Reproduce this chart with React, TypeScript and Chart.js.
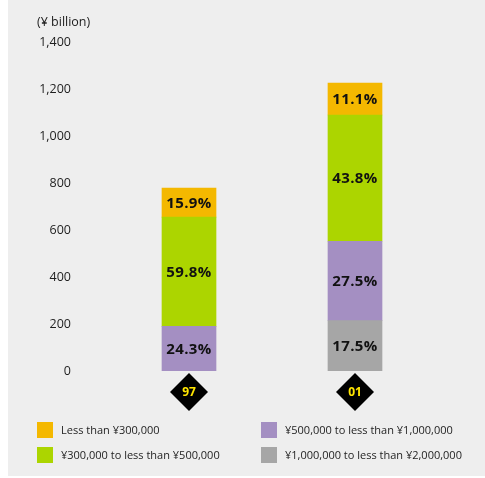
import React, { useEffect, useRef } from "react";
import { Chart, registerables } from "chart.js";

Chart.register(...registerables);

const years = ["97", "01"];
const yTicks = [0, 200, 400, 600, 800, 1000, 1200, 1400];

const seriesNames = [
  "¥1,000,000 to less than ¥2,000,000",
  "¥500,000 to less than ¥1,000,000",
  "¥300,000 to less than ¥500,000",
  "Less than ¥300,000",
];
const gray1Mto2M = [null, 215];
const purple500kto1M = [190, 338];
const green300kto500k = [466, 538];
const orangeUnder300k = [124, 136];

const pctGray = [null, 17.5];
const pctPurple = [24.3, 27.5];
const pctGreen = [59.8, 43.8];
const pctOrange = [15.9, 11.1];

const colors = ["#A6A6A6", "#A48FC2", "#ACD500", "#F4B800"];
const FONT = "'Open Sans', 'Noto Sans', sans-serif";
const TEXT = "#1e1e1e";

const overlayPlugin = {
  id: "overlay",
  afterDatasetsDraw(chart: any) {
    const ctx = chart.ctx;
    const pcts = [pctGray, pctPurple, pctGreen, pctOrange];
    ctx.save();
    // segment labels
    ctx.font = `bold 15px ${FONT}`;
    ctx.fillStyle = "#111";
    ctx.textAlign = "center";
    ctx.textBaseline = "middle";
    try { (ctx as any).letterSpacing = "0.4px"; } catch (e) {}
    chart.data.datasets.forEach((ds: any, di: number) => {
      const meta = chart.getDatasetMeta(di);
      meta.data.forEach((el: any, i: number) => {
        const p = pcts[di][i];
        if (p == null) return;
        const cy = (el.y + el.base) / 2;
        ctx.fillText(p.toFixed(1) + "%", el.x, cy + 1);
      });
    });
    try { (ctx as any).letterSpacing = "0px"; } catch (e) {}
    // diamonds
    const xs = chart.scales.x;
    const yb = chart.chartArea.bottom;
    years.forEach((yr, i) => {
      const cx = xs.getPixelForValue(i);
      const cy = yb + 21;
      const r = 19;
      ctx.fillStyle = "#000";
      ctx.beginPath();
      ctx.moveTo(cx, cy - r);
      ctx.lineTo(cx + r, cy);
      ctx.lineTo(cx, cy + r);
      ctx.lineTo(cx - r, cy);
      ctx.closePath();
      ctx.fill();
      ctx.fillStyle = "#FFE500";
      ctx.font = `bold 12px ${FONT}`;
      ctx.fillText(yr, cx, cy + 1);
    });
    // unit title
    ctx.fillStyle = TEXT;
    ctx.font = `12.5px ${FONT}`;
    ctx.textAlign = "left";
    ctx.fillText("(¥ billion)", 29, 22);
    // legend
    const items = [
      { c: colors[3], t: seriesNames[3], x: 29, y: 422 },
      { c: colors[2], t: seriesNames[2], x: 29, y: 447 },
      { c: colors[1], t: seriesNames[1], x: 253, y: 422 },
      { c: colors[0], t: seriesNames[0], x: 253, y: 447 },
    ];
    ctx.font = `11px ${FONT}`;
    items.forEach((it) => {
      ctx.fillStyle = it.c;
      ctx.fillRect(it.x, it.y, 16, 16);
      ctx.fillStyle = TEXT;
      ctx.fillText(it.t, it.x + 24, it.y + 8.5);
    });
    ctx.restore();
  },
};

export default function App() {
  const ref = useRef<HTMLCanvasElement>(null);
  useEffect(() => {
    if (!ref.current) return;
    const data = [gray1Mto2M, purple500kto1M, green300kto500k, orangeUnder300k];
    const chart = new Chart(ref.current, {
      type: "bar",
      data: {
        labels: years,
        datasets: data.map((d, i) => ({
          label: seriesNames[i],
          data: d as any,
          backgroundColor: colors[i],
          borderWidth: 0,
          barThickness: 54,
        })),
      },
      options: {
        animation: false,
        responsive: false,
        maintainAspectRatio: false,
        layout: { padding: { left: 0, right: 47, top: 37, bottom: 105 } },
        plugins: {
          legend: { display: false },
          tooltip: { enabled: false },
          title: { display: false },
        },
        scales: {
          x: {
            stacked: true,
            display: false,
            offset: true,
          },
          y: {
            stacked: true,
            min: 0,
            max: 1400,
            border: { display: false },
            grid: { display: false, drawTicks: false },
            afterBuildTicks: (s: any) => {
              s.ticks = yTicks.map((v) => ({ value: v }));
            },
            afterFit: (s: any) => {
              s.width = 98;
            },
            ticks: {
              padding: 35,
              color: TEXT,
              font: { family: FONT, size: 12.5 },
              callback: (v: any) => Number(v).toLocaleString("en-US"),
            },
          },
        },
      },
      plugins: [overlayPlugin],
    });
    return () => chart.destroy();
  }, []);
  return (
    <div
      style={{
        position: "absolute",
        left: 8,
        top: 0,
        width: 477,
        height: 476,
        background: "#EEEEEE",
      }}
    >
      <canvas ref={ref} width={477} height={476} style={{ display: "block" }} />
    </div>
  );
}
